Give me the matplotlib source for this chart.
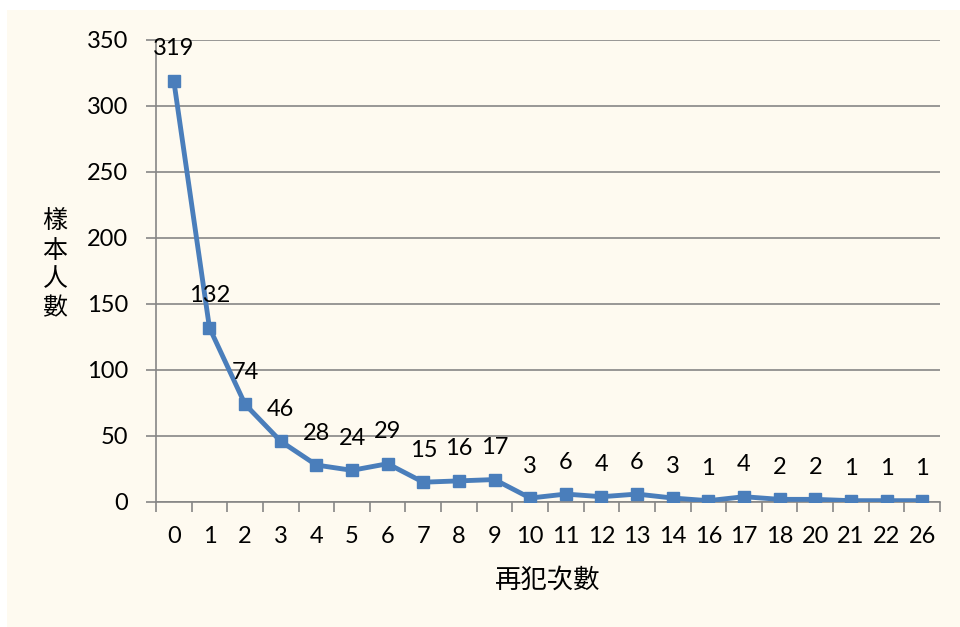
import matplotlib
matplotlib.use('Agg')
import matplotlib.pyplot as plt
from matplotlib.patches import Rectangle

# 再犯次數 vs 樣本人數
categories = ['0', '1', '2', '3', '4', '5', '6', '7', '8', '9', '10', '11',
              '12', '13', '14', '16', '17', '18', '20', '21', '22', '26']
counts = [319, 132, 74, 46, 28, 24, 29, 15, 16, 17, 3, 6, 4, 6, 3, 1, 4, 2, 2, 1, 1, 1]
y_ticks = [0, 50, 100, 150, 200, 250, 300, 350]

plt.rcParams['font.family'] = ['Lato', 'Noto Sans CJK TC', 'DejaVu Sans']

BG = '#FEFAF0'
LINE = '#4A7EBB'
AXIS = '#868686'

fig = plt.figure(figsize=(9.6, 6.27), dpi=100)
fig.patch.set_facecolor('white')
fig.patches.append(Rectangle((7 / 960, 0), 1, 1 - 10 / 627, transform=fig.transFigure,
                             facecolor=BG, edgecolor='none', zorder=-1))

ax = fig.add_axes([156 / 960, 1 - 502 / 627, (940 - 156) / 960, (502 - 40) / 627])
ax.set_facecolor(BG)

x = list(range(len(categories)))
ax.plot(x, counts, color=LINE, linewidth=3.5, marker='s', markersize=8.5, zorder=3)

for xi, v in zip(x, counts):
    ax.annotate(str(v), (xi, v), xytext=(0, 23), textcoords='offset points',
                ha='center', va='center', fontsize=17, color='black')

ax.set_xlim(-0.5, len(categories) - 0.5)
ax.set_ylim(0, 350)
ax.set_yticks(y_ticks)
ax.set_yticklabels([str(t) for t in y_ticks], fontsize=17)
ax.yaxis.grid(True, color=AXIS, linewidth=1.2)
ax.set_axisbelow(True)

ax.set_xticks(x)
ax.set_xticklabels(categories, fontsize=17)
ax.set_xticks([i - 0.5 for i in range(len(categories) + 1)], minor=True)
ax.tick_params(axis='x', which='major', length=0, pad=17)
ax.tick_params(axis='x', which='minor', length=7, width=1.2, color=AXIS)
ax.tick_params(axis='y', length=7, width=1.2, color=AXIS, pad=13)

for side in ['top', 'right']:
    ax.spines[side].set_visible(False)
for side in ['left', 'bottom']:
    ax.spines[side].set_color(AXIS)
    ax.spines[side].set_linewidth(1.2)

fig.text(55 / 960, 1 - 265 / 627, '樣\n本\n人\n數', ha='center', va='center',
         fontsize=18, family=['Noto Sans CJK TC'], linespacing=1.15)
fig.text(548 / 960, 1 - 580 / 627, '再犯次數', ha='center', va='center',
         fontsize=19, family=['Noto Sans CJK TC'])

plt.savefig('out.png', dpi=100, facecolor=fig.get_facecolor())
